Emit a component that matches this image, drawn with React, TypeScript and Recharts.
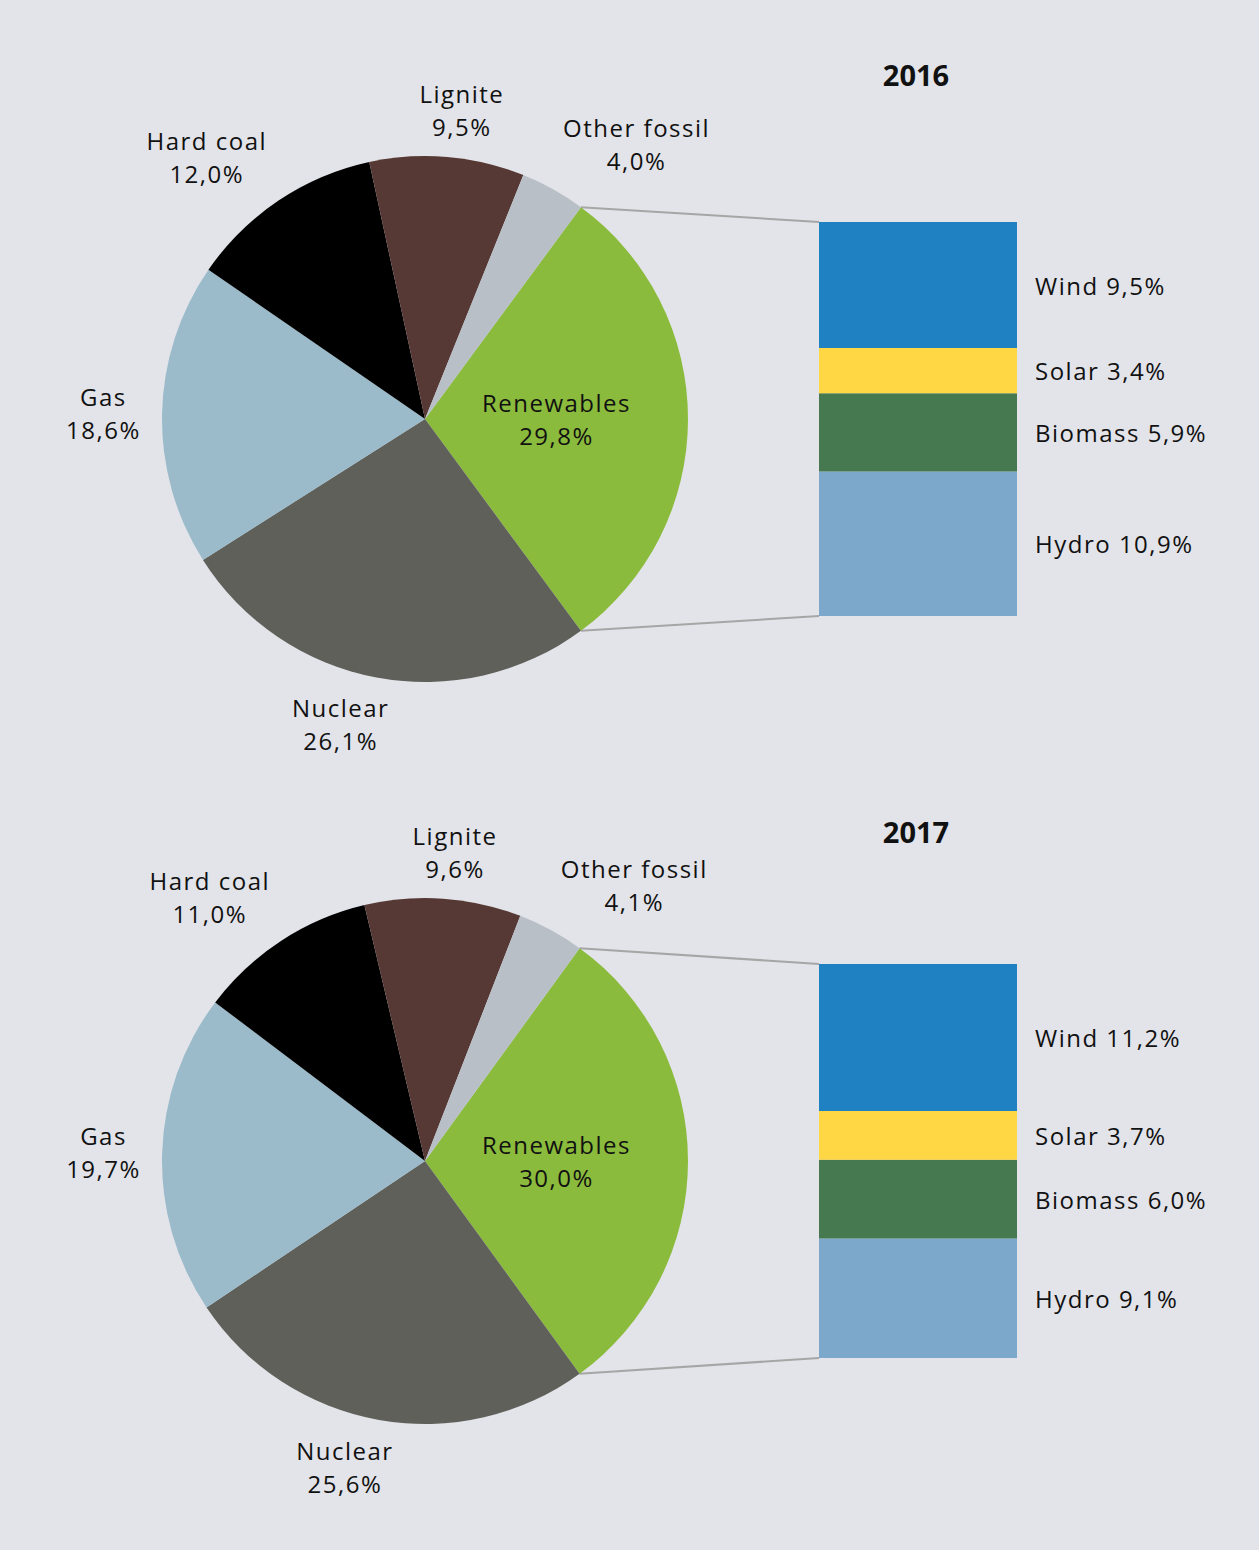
import React from 'react';
import { PieChart, Pie, Cell, BarChart, Bar, XAxis, YAxis, LabelList } from 'recharts';

// generation mix, shares in %
const SOURCES = ['Renewables', 'Nuclear', 'Gas', 'Hard coal', 'Lignite', 'Other fossil'];
const SHARES_2016 = [29.8, 26.1, 18.6, 12.0, 9.5, 4.0];
const SHARES_2017 = [30.0, 25.6, 19.7, 11.0, 9.6, 4.1];

// breakdown of the renewables slice
const RENEWABLE_TYPES = ['Wind', 'Solar', 'Biomass', 'Hydro'];
const RENEWABLES_2016 = [9.5, 3.4, 5.9, 10.9];
const RENEWABLES_2017 = [11.2, 3.7, 6.0, 9.1];

const SOURCE_COLORS = ['#8bbb3c', '#5f605a', '#9bbbca', '#000000', '#563935', '#b8bfc6'];
const TYPE_COLORS: Record<string, string> = {
    Wind: '#1f81c1',
    Solar: '#ffd644',
    Biomass: '#467950',
    Hydro: '#7ba8cb',
};

const BG = '#e3e4e9';
const TEXT = '#111111';
const FONT = '"Open Sans", sans-serif';
const FS = 24;
const LS = 1.5;
const LINE_H = 33;

const PIE_CX = 425;
const PIE_CY = 419;
const PIE_R = 263;
const LABEL_GAP = 22;

const BAR_LEFT = 819;
const BAR_TOP = 222;
const BAR_W = 198;
const BAR_H = 394;
const LABEL_SPACE = 240;

const fmt = (v: number) => v.toFixed(1).replace('.', ',') + '%';

let measureCtx: CanvasRenderingContext2D | null = null;
function textWidth(s: string) {
    if (!measureCtx) measureCtx = document.createElement('canvas').getContext('2d');
    if (!measureCtx) return s.length * FS * 0.55;
    measureCtx.font = `${FS}px "Open Sans"`;
    return measureCtx.measureText(s).width + LS * (s.length - 1);
}

const clamp = (v: number) => Math.max(-1, Math.min(1, v));

function TwoLines({ x, y, lines }: { x: number; y: number; lines: string[] }) {
    return (
        <text x={x} y={y} textAnchor="middle" fontFamily={FONT} fontSize={FS} letterSpacing={LS} fill={TEXT}>
            <tspan x={x} y={y - LINE_H / 2} dominantBaseline="central">{lines[0]}</tspan>
            <tspan x={x} y={y + LINE_H / 2} dominantBaseline="central">{lines[1]}</tspan>
        </text>
    );
}

function YearPanel({ year, shares, parts, top, titleY }: { year: string; shares: number[]; parts: number[]; top: number; titleY: number }) {
    const pieData = SOURCES.map((name, i) => ({ name, value: shares[i] }));
    const startAngle = (shares[0] * 3.6) / 2;

    const barRow: Record<string, any> = { name: year };
    RENEWABLE_TYPES.forEach((t, i) => (barRow[t] = parts[i]));
    const total = parts.reduce((a, b) => a + b, 0);

    // connector lines: edge of the renewables slice -> corners of the bar
    const rad = (startAngle * Math.PI) / 180;
    const edgeX = PIE_CX + PIE_R * Math.cos(rad);
    const edgeTop = PIE_CY - PIE_R * Math.sin(rad);
    const edgeBottom = PIE_CY + PIE_R * Math.sin(rad);

    const renderSliceLabel = (props: any) => {
        const cx = props.cx ?? PIE_CX;
        const cy = props.cy ?? PIE_CY;
        const r0 = props.outerRadius ?? PIE_R;
        const i = props.index;
        const a = ((props.midAngle ?? 0) * Math.PI) / 180;
        const cos = Math.cos(a);
        const sin = Math.sin(a);
        const lines = [SOURCES[i], fmt(shares[i])];
        if (i === 0) {
            const r = r0 * 0.5;
            return <TwoLines key={i} x={cx + r * cos} y={cy - r * sin} lines={lines} />;
        }
        const w = Math.max(...lines.map(textWidth));
        const r = r0 + LABEL_GAP;
        const x = cx + r * cos + (clamp(3.6 * cos) * w) / 2;
        const y = cy - r * sin - sin * LINE_H * (1 - 0.25 * Math.pow(sin, 6));
        return <TwoLines key={i} x={x} y={y} lines={lines} />;
    };

    const barLabel = (name: string) => (props: any) => {
        const { x, y, width, height, value } = props;
        return (
            <text
                x={Number(x) + Number(width) + 18}
                y={Number(y) + Number(height) / 2}
                dominantBaseline="central"
                fontFamily={FONT}
                fontSize={FS}
                letterSpacing={LS}
                fill={TEXT}
            >
                {`${name} ${fmt(Number(value))}`}
            </text>
        );
    };

    return (
        <div style={{ position: 'absolute', left: 0, top, width: 1259, height: 775 }}>
            <svg width={1259} height={775} style={{ position: 'absolute', left: 0, top: 0 }}>
                <line x1={edgeX} y1={edgeTop} x2={BAR_LEFT} y2={BAR_TOP} stroke="#a6a6a6" strokeWidth={2} />
                <line x1={edgeX} y1={edgeBottom} x2={BAR_LEFT} y2={BAR_TOP + BAR_H} stroke="#a6a6a6" strokeWidth={2} />
                <text x={916} y={titleY} textAnchor="middle" dominantBaseline="central" fontFamily={FONT} fontSize={29} fontWeight={700} fill={TEXT}>
                    {year}
                </text>
            </svg>
            <div style={{ position: 'absolute', left: 0, top: 0 }}>
                <PieChart width={800} height={775} margin={{ top: 0, right: 0, bottom: 0, left: 0 }}>
                    <Pie
                        data={pieData}
                        dataKey="value"
                        nameKey="name"
                        cx={PIE_CX}
                        cy={PIE_CY}
                        outerRadius={PIE_R}
                        startAngle={startAngle}
                        endAngle={startAngle - 360}
                        stroke="none"
                        label={renderSliceLabel}
                        labelLine={false}
                        isAnimationActive={false}
                    >
                        {pieData.map((d, i) => (
                            <Cell key={d.name} fill={SOURCE_COLORS[i]} stroke="none" />
                        ))}
                    </Pie>
                </PieChart>
            </div>
            <div style={{ position: 'absolute', left: BAR_LEFT, top: BAR_TOP }}>
                <BarChart
                    width={BAR_W + LABEL_SPACE}
                    height={BAR_H}
                    data={[barRow]}
                    margin={{ top: 0, right: LABEL_SPACE, bottom: 0, left: 0 }}
                    barCategoryGap={0}
                >
                    <XAxis dataKey="name" hide />
                    <YAxis type="number" domain={[0, total]} hide />
                    {[...RENEWABLE_TYPES].reverse().map((t) => (
                        <Bar key={t} dataKey={t} stackId="r" fill={TYPE_COLORS[t]} isAnimationActive={false}>
                            <LabelList dataKey={t} content={barLabel(t)} />
                        </Bar>
                    ))}
                </BarChart>
            </div>
        </div>
    );
}

export default function App() {
    return (
        <div style={{ position: 'absolute', left: 0, top: 0, width: 1259, height: 1550, background: BG, overflow: 'hidden' }}>
            <YearPanel year="2016" shares={SHARES_2016} parts={RENEWABLES_2016} top={0} titleY={74} />
            <YearPanel year="2017" shares={SHARES_2017} parts={RENEWABLES_2017} top={742} titleY={89} />
        </div>
    );
}
